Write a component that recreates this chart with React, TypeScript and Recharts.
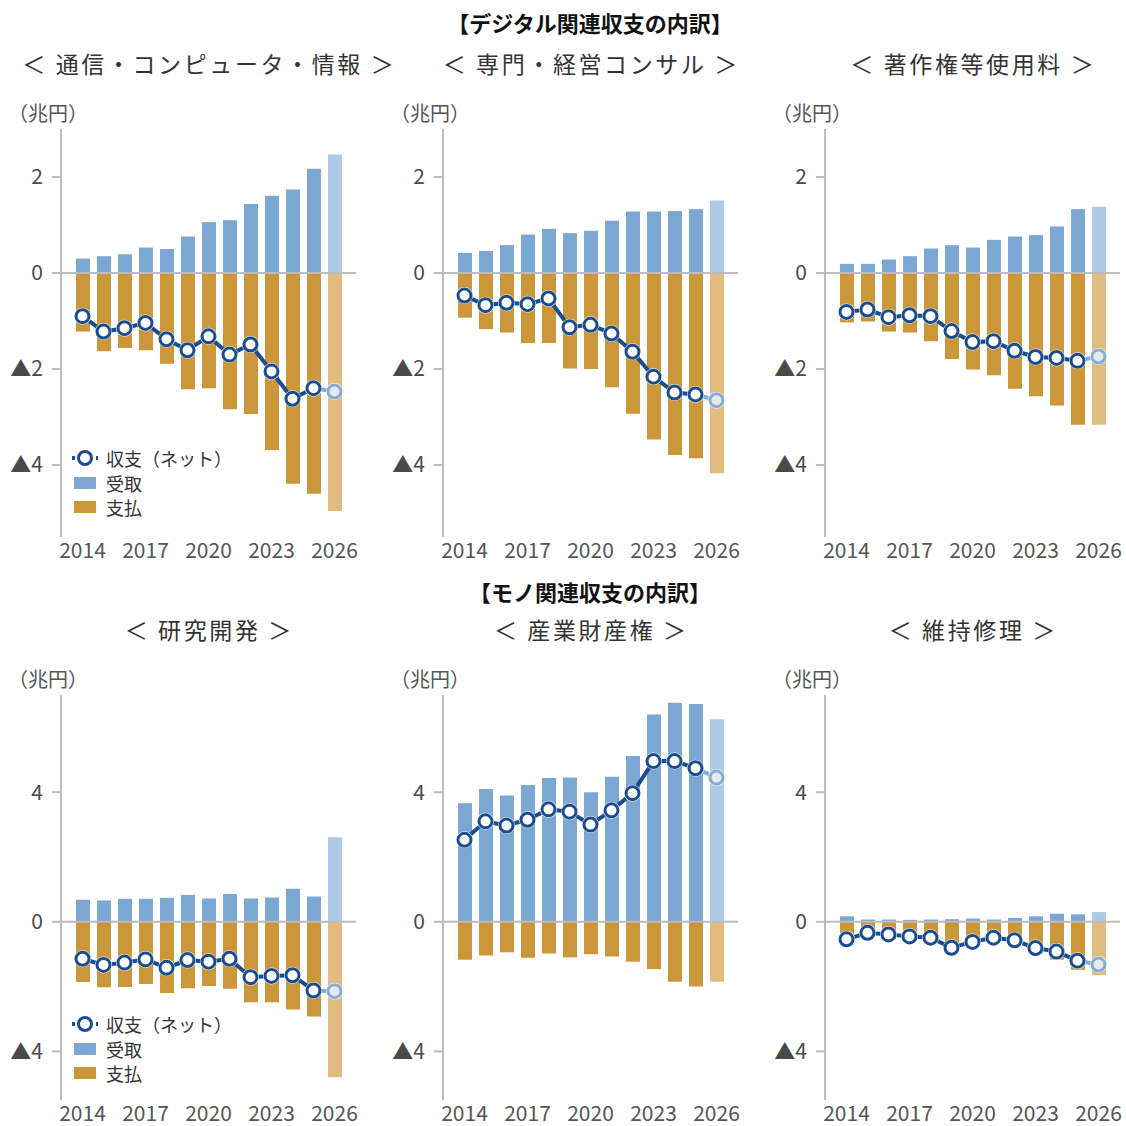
import React from 'react';
import { ComposedChart, Bar, Line, Cell, XAxis, YAxis, ReferenceLine } from 'recharts';

const YEARS = ['2014', '2015', '2016', '2017', '2018', '2019', '2020', '2021', '2022', '2023', '2024', '2025', '2026'];

// デジタル関連
const ICT_RECEIPTS = [0.3, 0.35, 0.39, 0.53, 0.5, 0.76, 1.06, 1.1, 1.44, 1.61, 1.74, 2.17, 2.47];
const ICT_PAYMENTS = [-1.22, -1.63, -1.56, -1.61, -1.89, -2.42, -2.4, -2.84, -2.94, -3.69, -4.39, -4.6, -4.96];
const ICT_NET = [-0.9, -1.22, -1.15, -1.04, -1.38, -1.61, -1.32, -1.7, -1.49, -2.05, -2.62, -2.4, -2.47];

const CONSULT_RECEIPTS = [0.42, 0.46, 0.58, 0.8, 0.92, 0.83, 0.88, 1.09, 1.28, 1.28, 1.29, 1.33, 1.51];
const CONSULT_PAYMENTS = [-0.93, -1.17, -1.24, -1.46, -1.46, -1.99, -2.0, -2.38, -2.93, -3.47, -3.79, -3.86, -4.17];
const CONSULT_NET = [-0.47, -0.67, -0.62, -0.65, -0.53, -1.13, -1.08, -1.26, -1.64, -2.16, -2.49, -2.53, -2.65];

const COPYRIGHT_RECEIPTS = [0.19, 0.19, 0.28, 0.35, 0.51, 0.58, 0.53, 0.69, 0.76, 0.79, 0.97, 1.33, 1.38];
const COPYRIGHT_PAYMENTS = [-1.03, -1.01, -1.22, -1.24, -1.42, -1.79, -2.01, -2.13, -2.41, -2.57, -2.76, -3.16, -3.16];
const COPYRIGHT_NET = [-0.81, -0.76, -0.92, -0.88, -0.9, -1.21, -1.44, -1.42, -1.62, -1.75, -1.77, -1.83, -1.74];

// モノ関連
const RND_RECEIPTS = [0.68, 0.66, 0.71, 0.71, 0.74, 0.83, 0.72, 0.86, 0.72, 0.75, 1.02, 0.78, 2.61];
const RND_PAYMENTS = [-1.86, -2.02, -2.01, -1.92, -2.2, -2.05, -1.98, -2.07, -2.48, -2.48, -2.71, -2.92, -4.8];
const RND_NET = [-1.14, -1.33, -1.26, -1.16, -1.42, -1.18, -1.23, -1.14, -1.71, -1.67, -1.65, -2.12, -2.14];

const IP_RECEIPTS = [3.66, 4.1, 3.9, 4.22, 4.44, 4.45, 4.0, 4.48, 5.12, 6.4, 6.76, 6.72, 6.25];
const IP_PAYMENTS = [-1.17, -1.04, -0.94, -1.11, -0.98, -1.1, -1.0, -1.07, -1.23, -1.46, -1.85, -2.0, -1.85];
const IP_NET = [2.53, 3.1, 2.97, 3.15, 3.47, 3.4, 3.0, 3.44, 3.97, 4.96, 4.96, 4.74, 4.45];

const REPAIR_RECEIPTS = [0.17, 0.07, 0.07, 0.06, 0.07, 0.08, 0.1, 0.07, 0.12, 0.17, 0.25, 0.23, 0.3];
const REPAIR_PAYMENTS = [-0.71, -0.41, -0.46, -0.51, -0.56, -0.88, -0.72, -0.56, -0.69, -0.98, -1.17, -1.48, -1.65];
const REPAIR_NET = [-0.54, -0.34, -0.39, -0.45, -0.49, -0.8, -0.62, -0.49, -0.57, -0.81, -0.92, -1.2, -1.32];

const TOP_TICKS = [-4, -2, 0, 2];
const BOTTOM_TICKS = [-4, 0, 4];

const BLUE = '#7DA7D3';
const BLUE_LIGHT = '#AECAE6';
const ORANGE = '#CC963A';
const ORANGE_LIGHT = '#E0BC80';
const NAVY = '#1A4D8F';
const NAVY_LIGHT = '#86ACD6';
const GRID = '#BDBDBD';
const FONT = "'Noto Sans CJK JP', 'Noto Sans', sans-serif";

const buildRows = (rec: number[], pay: number[], net: number[]) =>
  YEARS.map((year, i) => ({
    year,
    rec: rec[i],
    pay: pay[i],
    net: i < YEARS.length - 1 ? net[i] : null,
    proj: i >= YEARS.length - 2 ? net[i] : null,
  }));

const makeDot = (stroke: string, fill: string, onlyLast: boolean) => (props: any) => {
  const { cx, cy, index, value } = props;
  if (cx == null || cy == null || value == null || (onlyLast && index !== YEARS.length - 1)) {
    return <g key={`d-${index}`} />;
  }
  return (
    <g key={`d-${index}`}>
      <circle cx={cx} cy={cy} r={8.5} fill="#fff" />
      <circle cx={cx} cy={cy} r={6.5} fill={fill} stroke={stroke} strokeWidth={3} />
    </g>
  );
};

const fmtTick = (v: number) => (v < 0 ? `▲${Math.abs(v)}` : `${v}`);

type PanelProps = {
  left: number;
  top: number;
  plotH: number;
  domain: [number, number];
  ticks: number[];
  rec: number[];
  pay: number[];
  net: number[];
};

const Panel: React.FC<PanelProps> = ({ left, top, plotH, domain, ticks, rec, pay, net }) => {
  const rows = buildRows(rec, pay, net);
  const last = rows.length - 1;
  return (
    <div style={{ position: 'absolute', left, top }}>
      <ComposedChart
        width={380}
        height={29 + plotH + 26}
        data={rows}
        stackOffset="sign"
        margin={{ top: 29, right: 24, bottom: 0, left: 0 }}
      >
        <XAxis
          dataKey="year"
          interval={2}
          tickLine={false}
          axisLine={false}
          tickSize={0}
          tickMargin={6}
          height={26}
          padding={{ left: 11, right: 11 }}
          tick={{ fontSize: 21, fill: '#555' }}
        />
        <YAxis
          type="number"
          domain={domain}
          ticks={ticks}
          allowDataOverflow
          width={61}
          axisLine={{ stroke: GRID, strokeWidth: 2 }}
          tickLine={{ stroke: GRID, strokeWidth: 2 }}
          tickSize={9}
          tickMargin={9}
          tickFormatter={fmtTick}
          tick={{ fontSize: 21, fill: '#4a4a4a' }}
        />
        <ReferenceLine y={0} stroke={GRID} strokeWidth={2} />
        <Bar dataKey="rec" stackId="s" barSize={14} isAnimationActive={false}>
          {rows.map((_, i) => (
            <Cell key={`r-${i}`} fill={i === last ? BLUE_LIGHT : BLUE} />
          ))}
        </Bar>
        <Bar dataKey="pay" stackId="s" barSize={14} isAnimationActive={false}>
          {rows.map((_, i) => (
            <Cell key={`p-${i}`} fill={i === last ? ORANGE_LIGHT : ORANGE} />
          ))}
        </Bar>
        <Line
          dataKey="proj"
          stroke={NAVY_LIGHT}
          strokeWidth={4}
          dot={makeDot(NAVY_LIGHT, '#E6E9EE', true)}
          activeDot={false}
          isAnimationActive={false}
        />
        <Line
          dataKey="net"
          stroke={NAVY}
          strokeWidth={4}
          dot={makeDot(NAVY, '#fff', false)}
          activeDot={false}
          isAnimationActive={false}
        />
      </ComposedChart>
    </div>
  );
};

const LegendBox: React.FC<{ left: number; top: number }> = ({ left, top }) => (
  <div style={{ position: 'absolute', left, top, fontSize: 18, color: '#333', lineHeight: '24.5px' }}>
    <div style={{ display: 'flex', alignItems: 'center' }}>
      <svg width={36} height={24}>
        <line x1={2} y1={12} x2={28} y2={12} stroke={NAVY} strokeWidth={4} strokeDasharray="3 3" />
        <circle cx={15} cy={12} r={8.5} fill="#fff" />
        <circle cx={15} cy={12} r={6.5} fill="#fff" stroke={NAVY} strokeWidth={3} />
      </svg>
      <span>収支（ネット）</span>
    </div>
    <div style={{ display: 'flex', alignItems: 'center' }}>
      <svg width={36} height={24}>
        <rect x={4} y={6} width={22} height={12} fill={BLUE} />
      </svg>
      <span>受取</span>
    </div>
    <div style={{ display: 'flex', alignItems: 'center' }}>
      <svg width={36} height={24}>
        <rect x={4} y={6} width={22} height={12} fill={ORANGE} />
      </svg>
      <span>支払</span>
    </div>
  </div>
);

const Label: React.FC<{
  x: number;
  y: number;
  text: string;
  size: number;
  bold?: boolean;
  color?: string;
  spacing?: number;
}> = ({ x, y, text, size, bold, color, spacing }) => (
  <div
    style={{
      position: 'absolute',
      left: x - 250,
      top: y - size * 0.75,
      width: 500,
      textAlign: 'center',
      fontSize: size,
      lineHeight: `${size * 1.5}px`,
      fontWeight: bold ? 700 : 400,
      color: color || '#333',
      whiteSpace: 'nowrap',
      letterSpacing: spacing || 0,
      textIndent: spacing || 0,
    }}
  >
    {text}
  </div>
);

const UnitLabel: React.FC<{ left: number; top: number }> = ({ left, top }) => (
  <div style={{ position: 'absolute', left, top, fontSize: 20, color: '#555', lineHeight: '24px' }}>（兆円）</div>
);

const COL_X = [0, 382, 764];
const CENTERS = [208, 590, 972];

export default function App() {
  return (
    <div
      style={{
        position: 'absolute',
        left: 0,
        top: 0,
        width: 1126,
        height: 1126,
        background: '#fff',
        overflow: 'hidden',
        fontFamily: FONT,
      }}
    >
      <Label x={590} y={22} text="【デジタル関連収支の内訳】" size={22} bold color="#111" />
      <Label x={CENTERS[0]} y={63} text="＜ 通信・コンピュータ・情報 ＞" size={23} spacing={2.6} />
      <Label x={CENTERS[1]} y={63} text="＜ 専門・経営コンサル ＞" size={23} spacing={2.6} />
      <Label x={CENTERS[2]} y={63} text="＜ 著作権等使用料 ＞" size={23} spacing={2.6} />
      {COL_X.map((x) => (
        <UnitLabel key={`u1-${x}`} left={x + 8} top={101} />
      ))}
      <Panel left={COL_X[0]} top={100} plotH={408} domain={[-5.5, 3]} ticks={TOP_TICKS} rec={ICT_RECEIPTS} pay={ICT_PAYMENTS} net={ICT_NET} />
      <Panel left={COL_X[1]} top={100} plotH={408} domain={[-5.5, 3]} ticks={TOP_TICKS} rec={CONSULT_RECEIPTS} pay={CONSULT_PAYMENTS} net={CONSULT_NET} />
      <Panel left={COL_X[2]} top={100} plotH={408} domain={[-5.5, 3]} ticks={TOP_TICKS} rec={COPYRIGHT_RECEIPTS} pay={COPYRIGHT_PAYMENTS} net={COPYRIGHT_NET} />
      <LegendBox left={70} top={446} />

      <Label x={590} y={591} text="【モノ関連収支の内訳】" size={22} bold color="#111" />
      <Label x={CENTERS[0]} y={629} text="＜ 研究開発 ＞" size={23} spacing={2.6} />
      <Label x={CENTERS[1]} y={629} text="＜ 産業財産権 ＞" size={23} spacing={2.6} />
      <Label x={CENTERS[2]} y={629} text="＜ 維持修理 ＞" size={23} spacing={2.6} />
      {COL_X.map((x) => (
        <UnitLabel key={`u2-${x}`} left={x + 8} top={667} />
      ))}
      <Panel left={COL_X[0]} top={666} plotH={405} domain={[-5.5, 7]} ticks={BOTTOM_TICKS} rec={RND_RECEIPTS} pay={RND_PAYMENTS} net={RND_NET} />
      <Panel left={COL_X[1]} top={666} plotH={405} domain={[-5.5, 7]} ticks={BOTTOM_TICKS} rec={IP_RECEIPTS} pay={IP_PAYMENTS} net={IP_NET} />
      <Panel left={COL_X[2]} top={666} plotH={405} domain={[-5.5, 7]} ticks={BOTTOM_TICKS} rec={REPAIR_RECEIPTS} pay={REPAIR_PAYMENTS} net={REPAIR_NET} />
      <LegendBox left={70} top={1012} />
    </div>
  );
}
